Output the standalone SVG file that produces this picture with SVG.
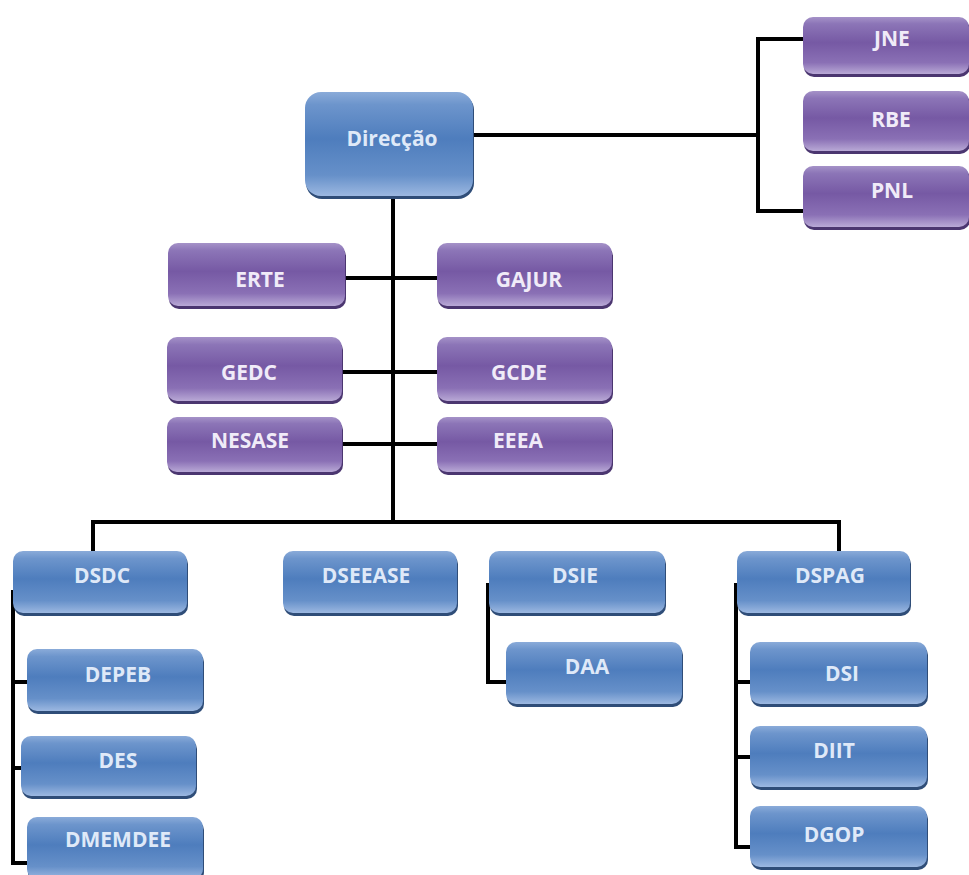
<svg xmlns="http://www.w3.org/2000/svg" width="969" height="875" viewBox="0 0 969 875">
<defs>
<linearGradient id="gb" x1="0" y1="0" x2="0" y2="1">
<stop offset="0" stop-color="#8aabd9"/>
<stop offset="0.12" stop-color="#6d95cc"/>
<stop offset="0.45" stop-color="#4e7dbd"/>
<stop offset="0.8" stop-color="#6690c9"/>
<stop offset="1" stop-color="#9cb8e1"/>
</linearGradient>
<linearGradient id="gp" x1="0" y1="0" x2="0" y2="1">
<stop offset="0" stop-color="#a592c8"/>
<stop offset="0.12" stop-color="#8c75b7"/>
<stop offset="0.45" stop-color="#7659a4"/>
<stop offset="0.8" stop-color="#8a70b5"/>
<stop offset="1" stop-color="#b9a9d6"/>
</linearGradient>
</defs>
<style>
.sb{fill:#2f4d78}
.sp{fill:#4b3670}
.b{fill:url(#gb)}
.p{fill:url(#gp)}
text{font-family:"Open Sans","Liberation Sans",sans-serif;font-weight:bold;font-size:21px;text-anchor:middle}
.tb{fill:#dfe9f8}
.tp{fill:#f0ebf8}
.c{fill:none;stroke:#000;stroke-width:4;stroke-linejoin:miter}
</style>
<rect width="969" height="875" fill="#fff"/>
<g id="connectors">
<path class="c" d="M473,135 H758"/>
<path class="c" d="M805,39 H758 V211 H805"/>
<path class="c" d="M393,197 V522"/>
<path class="c" d="M345,278 H437"/>
<path class="c" d="M342,372 H437"/>
<path class="c" d="M342,444 H437"/>
<path class="c" d="M93,552 V522 H839 V552"/>
<path class="c" d="M13,590 V863 H28"/>
<path class="c" d="M13,682 H28"/>
<path class="c" d="M13,768 H22"/>
<path class="c" d="M488,583 V682 H507"/>
<path class="c" d="M736,583 V847 H751"/>
<path class="c" d="M736,682 H751"/>
<path class="c" d="M736,757 H751"/>
</g>
<g id="direccao"><rect class="sb" x="306" y="94" width="168" height="105" rx="16"/><rect class="b" x="305" y="92" width="168" height="104" rx="16"/><text class="tb" x="392" y="146" font-size="22">Direcção</text></g>
<g id="jne"><rect class="sp" x="804" y="20" width="166" height="57" rx="10"/><rect class="p" x="803" y="17" width="166" height="57" rx="10"/><text class="tp" x="892" y="46">JNE</text></g>
<g id="rbe"><rect class="sp" x="804" y="94" width="166" height="60" rx="10"/><rect class="p" x="803" y="91" width="166" height="60" rx="10"/><text class="tp" x="891" y="127">RBE</text></g>
<g id="pnl"><rect class="sp" x="804" y="169" width="166" height="61" rx="10"/><rect class="p" x="803" y="166" width="166" height="61" rx="10"/><text class="tp" x="892" y="198">PNL</text></g>
<g id="erte"><rect class="sp" x="169" y="246" width="177" height="63" rx="10"/><rect class="p" x="168" y="243" width="177" height="63" rx="10"/><text class="tp" x="260" y="287">ERTE</text></g>
<g id="gajur"><rect class="sp" x="438" y="246" width="175" height="63" rx="10"/><rect class="p" x="437" y="243" width="175" height="63" rx="10"/><text class="tp" x="529" y="287">GAJUR</text></g>
<g id="gedc"><rect class="sp" x="168" y="340" width="175" height="64" rx="10"/><rect class="p" x="167" y="337" width="175" height="64" rx="10"/><text class="tp" x="249" y="380">GEDC</text></g>
<g id="gcde"><rect class="sp" x="438" y="340" width="175" height="64" rx="10"/><rect class="p" x="437" y="337" width="175" height="64" rx="10"/><text class="tp" x="519" y="380">GCDE</text></g>
<g id="nesase"><rect class="sp" x="168" y="420" width="175" height="55" rx="10"/><rect class="p" x="167" y="417" width="175" height="55" rx="10"/><text class="tp" x="250" y="448">NESASE</text></g>
<g id="eeea"><rect class="sp" x="438" y="420" width="175" height="55" rx="10"/><rect class="p" x="437" y="417" width="175" height="55" rx="10"/><text class="tp" x="518" y="448">EEEA</text></g>
<g id="dsdc"><rect class="sb" x="14" y="554" width="174" height="62" rx="10"/><rect class="b" x="13" y="551" width="174" height="62" rx="10"/><text class="tb" x="102" y="583">DSDC</text></g>
<g id="dseease"><rect class="sb" x="284" y="554" width="174" height="62" rx="10"/><rect class="b" x="283" y="551" width="174" height="62" rx="10"/><text class="tb" x="366" y="583">DSEEASE</text></g>
<g id="dsie"><rect class="sb" x="490" y="554" width="176" height="62" rx="10"/><rect class="b" x="489" y="551" width="176" height="62" rx="10"/><text class="tb" x="575" y="583">DSIE</text></g>
<g id="dspag"><rect class="sb" x="738" y="554" width="173" height="62" rx="10"/><rect class="b" x="737" y="551" width="173" height="62" rx="10"/><text class="tb" x="830" y="583">DSPAG</text></g>
<g id="depeb"><rect class="sb" x="28" y="652" width="176" height="62" rx="10"/><rect class="b" x="27" y="649" width="176" height="62" rx="10"/><text class="tb" x="118" y="682">DEPEB</text></g>
<g id="des"><rect class="sb" x="22" y="739" width="175" height="60" rx="10"/><rect class="b" x="21" y="736" width="175" height="60" rx="10"/><text class="tb" x="118" y="768">DES</text></g>
<g id="dmemdee"><rect class="sb" x="28" y="820" width="176" height="62" rx="10"/><rect class="b" x="27" y="817" width="176" height="62" rx="10"/><text class="tb" x="118" y="847">DMEMDEE</text></g>
<g id="daa"><rect class="sb" x="507" y="645" width="176" height="62" rx="10"/><rect class="b" x="506" y="642" width="176" height="62" rx="10"/><text class="tb" x="587" y="674">DAA</text></g>
<g id="dsi"><rect class="sb" x="751" y="645" width="177" height="62" rx="10"/><rect class="b" x="750" y="642" width="177" height="62" rx="10"/><text class="tb" x="842" y="681">DSI</text></g>
<g id="diit"><rect class="sb" x="751" y="729" width="177" height="61" rx="10"/><rect class="b" x="750" y="726" width="177" height="61" rx="10"/><text class="tb" x="834" y="758">DIIT</text></g>
<g id="dgop"><rect class="sb" x="751" y="809" width="177" height="61" rx="10"/><rect class="b" x="750" y="806" width="177" height="61" rx="10"/><text class="tb" x="834" y="842">DGOP</text></g>
</svg>
